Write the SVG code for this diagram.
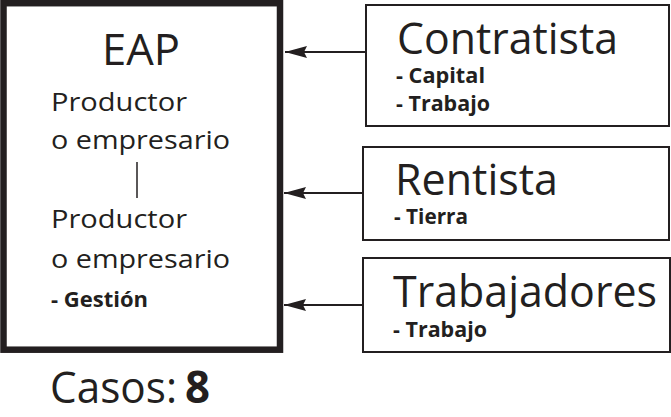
<svg xmlns="http://www.w3.org/2000/svg" width="671" height="417" viewBox="0 0 671 417">
<defs>
<style>
.big{font-family:"Open Sans","DejaVu Sans",sans-serif;font-size:44px;fill:#231f20}
.mid{font-family:"Open Sans","DejaVu Sans",sans-serif;font-size:26px;fill:#231f20}
.b{font-family:"Open Sans","DejaVu Sans",sans-serif;font-size:21px;font-weight:bold;fill:#231f20}
.box{fill:#fff;stroke:#231f20;stroke-width:2}
.conn{stroke:#231f20;stroke-width:2;fill:none}
</style>
<marker id="ah" markerWidth="22" markerHeight="12" refX="22" refY="6" orient="auto" markerUnits="userSpaceOnUse">
<path d="M0,0 L22,6 L0,12 L3,6 Z" fill="#231f20"/>
</marker>
</defs>
<rect width="671" height="417" fill="#fff"/>
<g id="eap">
<rect x="3.5" y="3.2" width="276.5" height="346.5" fill="#fff" stroke="#231f20" stroke-width="6.5"/>
<text class="big" x="102" y="65" textLength="78" lengthAdjust="spacingAndGlyphs">EAP</text>
<text class="mid" x="51" y="111" textLength="136" lengthAdjust="spacingAndGlyphs">Productor</text>
<text class="mid" x="51" y="149" textLength="179" lengthAdjust="spacingAndGlyphs">o empresario</text>
<line x1="137" y1="162" x2="137" y2="198" stroke="#231f20" stroke-width="1.5"/>
<text class="mid" x="51" y="228" textLength="136" lengthAdjust="spacingAndGlyphs">Productor</text>
<text class="mid" x="51" y="268" textLength="179" lengthAdjust="spacingAndGlyphs">o empresario</text>
<text class="b" x="51" y="307" textLength="97" lengthAdjust="spacingAndGlyphs">- Gestión</text>
</g>
<g id="contratista">
<rect class="box" x="366" y="5" width="303" height="121"/>
<text class="big" x="397" y="54" textLength="221" lengthAdjust="spacingAndGlyphs">Contratista</text>
<text class="b" x="396" y="83" textLength="89" lengthAdjust="spacingAndGlyphs">- Capital</text>
<text class="b" x="396" y="111" textLength="94" lengthAdjust="spacingAndGlyphs">- Trabajo</text>
</g>
<g id="rentista">
<rect class="box" x="363" y="147" width="306" height="93"/>
<text class="big" x="395" y="195" textLength="163" lengthAdjust="spacingAndGlyphs">Rentista</text>
<text class="b" x="394" y="224" textLength="74" lengthAdjust="spacingAndGlyphs">- Tierra</text>
</g>
<g id="trabajadores">
<rect class="box" x="363" y="258" width="307" height="94"/>
<text class="big" x="393" y="307" textLength="264" lengthAdjust="spacingAndGlyphs">Trabajadores</text>
<text class="b" x="393" y="337" textLength="94" lengthAdjust="spacingAndGlyphs">- Trabajo</text>
</g>
<g id="casos">
<text class="big" x="50" y="403" textLength="127" lengthAdjust="spacingAndGlyphs">Casos:</text>
<text class="big" x="185" y="403" font-weight="bold" textLength="25" lengthAdjust="spacingAndGlyphs">8</text>
</g>
<g id="connectors">
<line class="conn" x1="366" y1="52" x2="285" y2="52" marker-end="url(#ah)"/>
<line class="conn" x1="363" y1="193" x2="284" y2="193" marker-end="url(#ah)"/>
<line class="conn" x1="363" y1="305" x2="284" y2="305" marker-end="url(#ah)"/>
</g>
</svg>
